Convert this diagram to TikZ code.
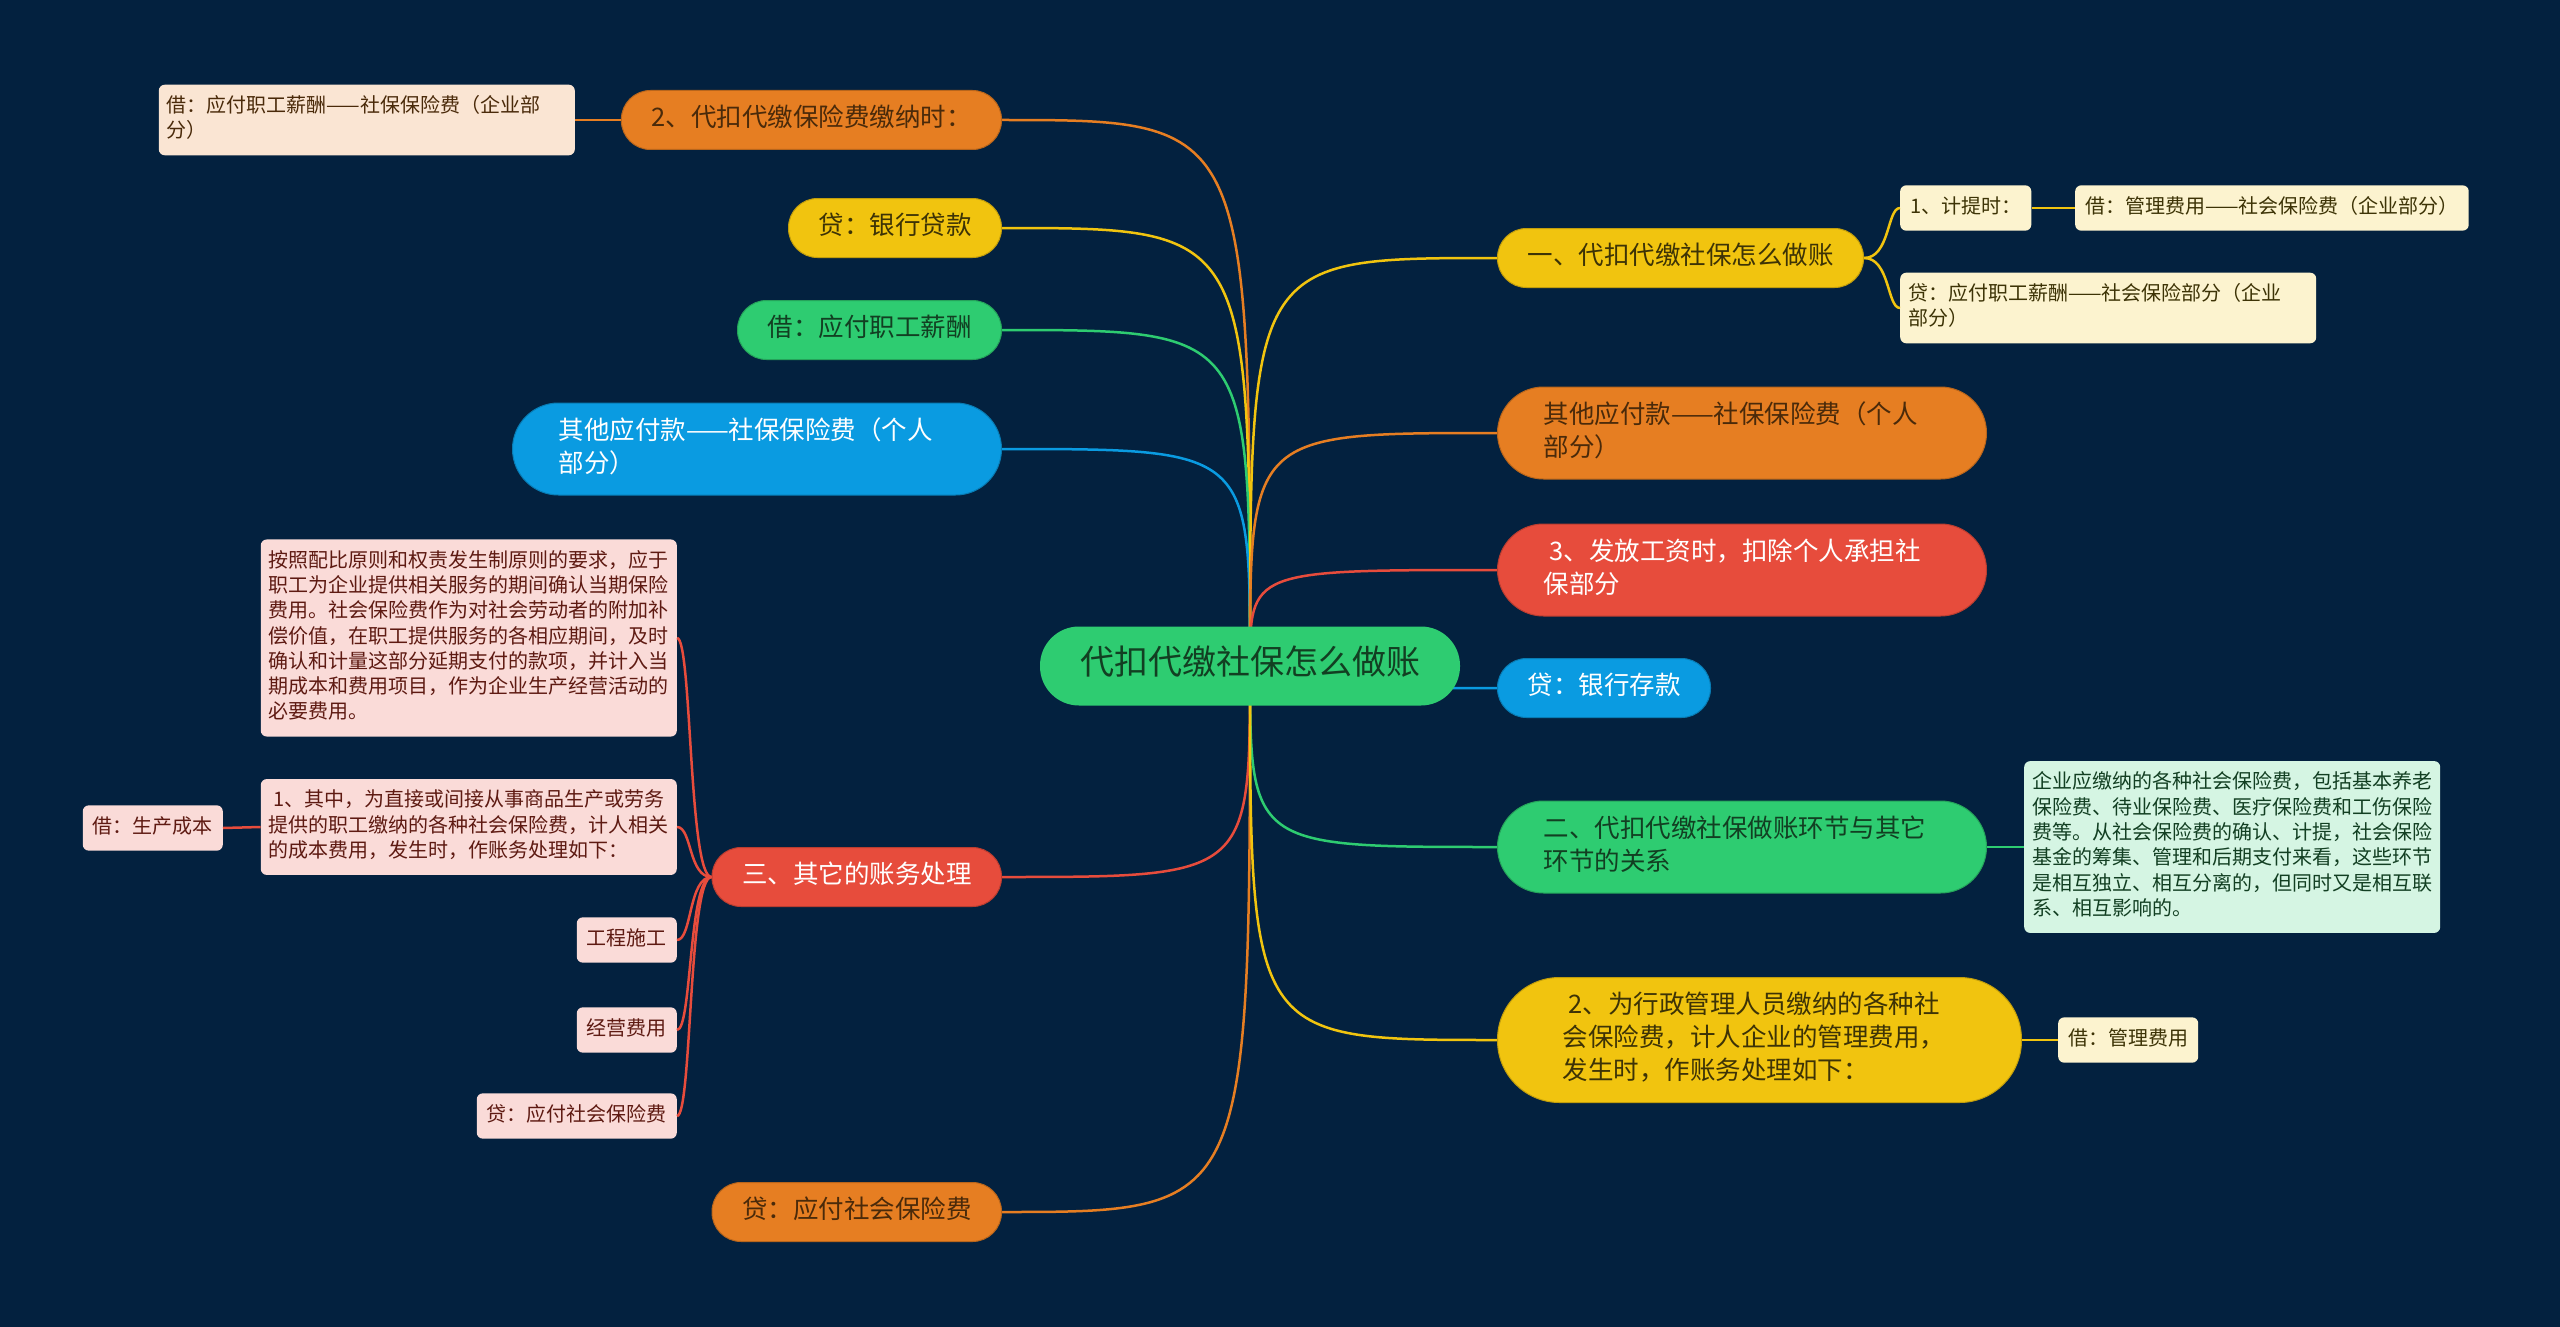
\documentclass[tikz,border=0pt]{standalone}
\usepackage{fontspec}
\setmainfont{Noto Sans CJK SC}
\usetikzlibrary{backgrounds}
\definecolor{navy}{HTML}{03213F}
\definecolor{carrot}{HTML}{E67E22}
\definecolor{sunflower}{HTML}{F1C40F}
\definecolor{emerald}{HTML}{2ECC71}
\definecolor{azure}{HTML}{0A9BE1}
\definecolor{alizarin}{HTML}{E74C3C}
\definecolor{pinkbox}{HTML}{FADBD8}
\definecolor{peachbox}{HTML}{FAE5D3}
\definecolor{creambox}{HTML}{FCF3CF}
\definecolor{mintbox}{HTML}{D5F5E3}
\definecolor{inkbrown}{HTML}{4A2A0A}
\definecolor{inkolive}{HTML}{3D3306}
\definecolor{inkgreen}{HTML}{123F22}
\definecolor{inkred}{HTML}{5E1A12}

\begin{document}
\begin{tikzpicture}[x=1pt, y=-1pt,
    every node/.style={execute at begin node=\strut, execute at end node=\strut},
    hub/.style={fill=emerald, text=inkgreen, rounded corners=39pt, inner xsep=40pt, inner ysep=17.5pt, font=\fontsize{34}{44}\selectfont},
    pill/.style={rounded corners=29pt, inner xsep=30pt, inner ysep=13pt, line width=1pt, font=\fontsize{25.5}{33}\selectfont},
    pilltwo/.style={pill, rounded corners=46pt, inner xsep=46pt, text width=397pt, align=left},
    pillthree/.style={pill, rounded corners=62pt, inner xsep=65pt, text width=394pt, align=left},
    inorange/.style={fill=carrot, draw=carrot!80!black, text=inkbrown},
    inyellow/.style={fill=sunflower, draw=sunflower!80!black, text=inkolive},
    ingreen/.style={fill=emerald, draw=emerald!80!black, text=inkgreen},
    inblue/.style={fill=azure, draw=azure!80!black, text=white},
    inred/.style={fill=alizarin, draw=alizarin!80!black, text=white},
    leaf/.style={rounded corners=6pt, inner xsep=10pt, inner ysep=10pt, font=\fontsize{20}{25.3}\selectfont},
    leafwide/.style={leaf, inner xsep=8pt, text width=400pt, align=left},
    inpink/.style={fill=pinkbox, text=inkred},
    incream/.style={fill=creambox, text=inkolive},
    twig/.style={line width=2.5pt}]
  \useasboundingbox (0,0) rectangle (2560,1327);
  \begin{scope}[on background layer]
    \fill[navy] (0,0) rectangle (2560,1327);
  \end{scope}

  \node[hub] (main) at (1250,666) {代扣代缴社保怎么做账};

  % left side
  \node[pill, inorange, anchor=east] (paytime) at (1002,120) {2、代扣代缴保险费缴纳时：};
  \node[pill, inyellow, anchor=east] (bankloan) at (1002,228) {贷：银行贷款};
  \node[pill, ingreen, anchor=east] (wages) at (1002,330) {借：应付职工薪酬};
  \node[pilltwo, inblue, anchor=east] (otherpay) at (1002,449) {其他应付款——社保保险费（个人\\部分）};
  \node[pill, inred, anchor=east] (misc) at (1002,877) {三、其它的账务处理};
  \node[pill, inorange, anchor=east] (socdue) at (1002,1212) {贷：应付社会保险费};

  \node[leafwide, fill=peachbox, text=inkbrown, anchor=east] (paydebit) at (575,120) {借：应付职工薪酬——社保保险费（企业部\\分）};
  \node[leafwide, inpink, anchor=east] (principle) at (677,638) {按照配比原则和权责发生制原则的要求，应于\\职工为企业提供相关服务的期间确认当期保险\\费用。社会保险费作为对社会劳动者的附加补\\偿价值，在职工提供服务的各相应期间，及时\\确认和计量这部分延期支付的款项，并计入当\\期成本和费用项目，作为企业生产经营活动的\\必要费用。};
  \node[leafwide, inpink, anchor=east] (direct) at (677,827) {\hspace*{5pt}1、其中，为直接或间接从事商品生产或劳务\\提供的职工缴纳的各种社会保险费，计人相关\\的成本费用，发生时，作账务处理如下：};
  \node[leaf, inpink, anchor=east] (prodcost) at (223,828) {借：生产成本};
  \node[leaf, inpink, anchor=east] (build) at (677,940) {工程施工};
  \node[leaf, inpink, anchor=east] (opcost) at (677,1030) {经营费用};
  \node[leaf, inpink, anchor=east] (duecredit) at (677,1116) {贷：应付社会保险费};

  % right side
  \node[pill, inyellow, anchor=west] (howto) at (1497,258) {一、代扣代缴社保怎么做账};
  \node[pilltwo, inorange, anchor=west] (personal) at (1497,433) {其他应付款——社保保险费（个人\\部分）};
  \node[pilltwo, inred, anchor=west] (salary) at (1497,570) {\hspace*{6pt}3、发放工资时，扣除个人承担社\\保部分};
  \node[pill, inblue, anchor=west] (deposit) at (1497,688) {贷：银行存款};
  \node[pilltwo, ingreen, anchor=west] (relation) at (1497,847) {二、代扣代缴社保做账环节与其它\\环节的关系};
  \node[pillthree, inyellow, anchor=west] (admin) at (1497,1040) {\hspace*{6pt}2、为行政管理人员缴纳的各种社\\会保险费，计人企业的管理费用，\\发生时，作账务处理如下：};

  \node[leaf, incream, anchor=west] (accrue) at (1900,208) {1、计提时：};
  \node[leaf, incream, anchor=west] (mgmtdebit) at (2075,208) {借：管理费用——社会保险费（企业部分）};
  \node[leafwide, incream, anchor=west] (wagecredit) at (1900,308) {贷：应付职工薪酬——社会保险部分（企业\\部分）};
  \node[leafwide, fill=mintbox, text=inkgreen, anchor=west] (links) at (2024,847) {企业应缴纳的各种社会保险费，包括基本养老\\保险费、待业保险费、医疗保险费和工伤保险\\费等。从社会保险费的确认、计提，社会保险\\基金的筹集、管理和后期支付来看，这些环节\\是相互独立、相互分离的，但同时又是相互联\\系、相互影响的。};
  \node[leaf, incream, anchor=west] (mgmtcost) at (2058,1040) {借：管理费用};

  \begin{scope}[on background layer]
    \draw[twig, carrot] (main.center) .. controls (main.center |- paytime) .. (paytime.east);
    \draw[twig, sunflower] (main.center) .. controls (main.center |- bankloan) .. (bankloan.east);
    \draw[twig, emerald] (main.center) .. controls (main.center |- wages) .. (wages.east);
    \draw[twig, azure] (main.center) .. controls (main.center |- otherpay) .. (otherpay.east);
    \draw[twig, alizarin] (main.center) .. controls (main.center |- misc) .. (misc.east);
    \draw[twig, carrot] (main.center) .. controls (main.center |- socdue) .. (socdue.east);
    \draw[twig, sunflower] (main.center) .. controls (main.center |- howto) .. (howto.west);
    \draw[twig, carrot] (main.center) .. controls (main.center |- personal) .. (personal.west);
    \draw[twig, alizarin] (main.center) .. controls (main.center |- salary) .. (salary.west);
    \draw[twig, azure] (main.center) .. controls (main.center |- deposit) .. (deposit.west);
    \draw[twig, emerald] (main.center) .. controls (main.center |- relation) .. (relation.west);
    \draw[twig, sunflower] (main.center) .. controls (main.center |- admin) .. (admin.west);
  \end{scope}

  \draw[twig, carrot] (paytime.west) -- (paydebit.east);
  \draw[twig, alizarin] (misc.west) .. controls +(-23,0) and +(15,0) .. (principle.east);
  \draw[twig, alizarin] (misc.west) .. controls +(-23,0) and +(15,0) .. (direct.east);
  \draw[twig, alizarin] (misc.west) .. controls +(-23,0) and +(15,0) .. (build.east);
  \draw[twig, alizarin] (misc.west) .. controls +(-23,0) and +(15,0) .. (opcost.east);
  \draw[twig, alizarin] (misc.west) .. controls +(-23,0) and +(15,0) .. (duecredit.east);
  \draw[twig, alizarin] (direct.west) -- (prodcost.east);
  \draw[twig, sunflower] (howto.east) .. controls +(26,0) and +(-13,0) .. (accrue.west);
  \draw[twig, sunflower] (howto.east) .. controls +(26,0) and +(-13,0) .. (wagecredit.west);
  \draw[twig, sunflower] (accrue.east) -- (mgmtdebit.west);
  \draw[twig, emerald] (relation.east) -- (links.west);
  \draw[twig, sunflower] (admin.east) -- (mgmtcost.west);
\end{tikzpicture}
\end{document}
